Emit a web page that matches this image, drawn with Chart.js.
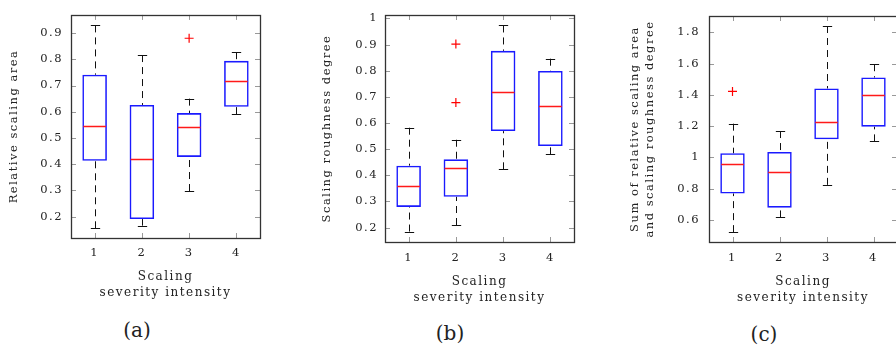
<!DOCTYPE html>
<html lang="en">
<head>
<meta charset="UTF-8">
<title>Scaling severity box plots</title>
<script src="https://cdn.jsdelivr.net/npm/chart.js"></script>
<style>
  body { margin: 0; width: 896px; height: 346px; overflow: hidden; background: #fff; position: relative; }
  .panel { position: absolute; top: 0; }
  .caption { position: absolute; font-family: "DejaVu Serif", serif; font-size: 20px; line-height: 22px; color: #222; transform: translateX(-50%); }
</style>
</head>
<body>
<div class="panel" style="left:0px"><canvas id="chartA" width="270" height="310"></canvas></div>
<div class="panel" style="left:300px"><canvas id="chartB" width="284" height="310"></canvas></div>
<div class="panel" style="left:600px"><canvas id="chartC" width="307" height="310"></canvas></div>
<div class="caption" style="left:137px;top:319px">(a)</div>
<div class="caption" style="left:450px;top:322px">(b)</div>
<div class="caption" style="left:764px;top:323px">(c)</div>

<script>
    const categories = ['1', '2', '3', '4'];

    // (a) relative scaling area
    const areaLow = [0.156, 0.166, 0.298, 0.591];
    const areaQ1 = [0.413, 0.191, 0.428, 0.619];
    const areaMedian = [0.544, 0.421, 0.540, 0.716];
    const areaQ3 = [0.741, 0.626, 0.595, 0.794];
    const areaHigh = [0.929, 0.816, 0.650, 0.827];
    const areaOutliers = [{x: '3', y: 0.88}];
    const areaTicks = [0.2, 0.3, 0.4, 0.5, 0.6, 0.7, 0.8, 0.9];

    // (b) scaling roughness degree
    const roughLow = [0.185, 0.210, 0.423, 0.480];
    const roughQ1 = [0.279, 0.318, 0.569, 0.512];
    const roughMedian = [0.358, 0.428, 0.717, 0.666];
    const roughQ3 = [0.437, 0.461, 0.876, 0.799];
    const roughHigh = [0.582, 0.536, 0.973, 0.846];
    const roughOutliers = [{x: '2', y: 0.902}, {x: '2', y: 0.678}];
    const roughTicks = [0.2, 0.3, 0.4, 0.5, 0.6, 0.7, 0.8, 0.9, 1];

    // (c) sum of both
    const sumLow = [0.523, 0.617, 0.825, 1.103];
    const sumQ1 = [0.770, 0.679, 1.116, 1.197];
    const sumMedian = [0.961, 0.906, 1.226, 1.399];
    const sumQ3 = [1.027, 1.035, 1.441, 1.511];
    const sumHigh = [1.216, 1.169, 1.840, 1.596];
    const sumOutliers = [{x: '1', y: 1.422}];
    const sumTicks = [0.6, 0.8, 1, 1.2, 1.4, 1.6, 1.8];

    const FONT = '"DejaVu Serif", serif';
    const TEXT = '#222';

    // whiskers, caps, medians and the framed axes with inner ticks
    function boxPlugin(low, median, high) {
        return {
            id: 'boxExtras',
            beforeDraw(chart) {
                chart.ctx.letterSpacing = '1.5px';
            },
            beforeDatasetsDraw(chart) {
                const {ctx, chartArea: a, scales: {x, y}} = chart;
                ctx.save();
                ctx.strokeStyle = '#999';
                ctx.lineWidth = 1;
                ctx.beginPath();
                y.ticks.forEach(t => {
                    const py = Math.round(y.getPixelForValue(t.value)) + 0.5;
                    ctx.moveTo(a.left, py); ctx.lineTo(a.left + 5, py);
                    ctx.moveTo(a.right, py); ctx.lineTo(a.right - 5, py);
                });
                categories.forEach((c, i) => {
                    const px = Math.round(x.getPixelForValue(i)) + 0.5;
                    ctx.moveTo(px, a.bottom); ctx.lineTo(px, a.bottom - 5);
                    ctx.moveTo(px, a.top); ctx.lineTo(px, a.top + 5);
                });
                ctx.stroke();

                const meta = chart.getDatasetMeta(0);
                ctx.strokeStyle = '#111';
                meta.data.forEach((bar, i) => {
                    const cx = Math.round(bar.x) + 0.5;
                    const capHalf = bar.width * 0.19;
                    const yLow = y.getPixelForValue(low[i]);
                    const yHigh = y.getPixelForValue(high[i]);
                    const yQ1 = Math.max(bar.y, bar.base);
                    const yQ3 = Math.min(bar.y, bar.base);
                    ctx.setLineDash([7, 5]);
                    ctx.beginPath();
                    ctx.moveTo(cx, yHigh); ctx.lineTo(cx, yQ3);
                    ctx.moveTo(cx, yLow); ctx.lineTo(cx, yQ1);
                    ctx.stroke();
                    ctx.setLineDash([]);
                    ctx.beginPath();
                    ctx.moveTo(cx - capHalf, Math.round(yHigh) + 0.5); ctx.lineTo(cx + capHalf, Math.round(yHigh) + 0.5);
                    ctx.moveTo(cx - capHalf, Math.round(yLow) + 0.5); ctx.lineTo(cx + capHalf, Math.round(yLow) + 0.5);
                    ctx.stroke();
                });
                ctx.restore();
            },
            afterDatasetsDraw(chart) {
                const {ctx, chartArea: a, scales: {y}} = chart;
                const meta = chart.getDatasetMeta(0);
                ctx.save();
                ctx.strokeStyle = '#ff1a1a';
                ctx.lineWidth = 1.3;
                ctx.beginPath();
                meta.data.forEach((bar, i) => {
                    const py = Math.round(y.getPixelForValue(median[i])) + 0.5;
                    ctx.moveTo(bar.x - bar.width / 2 + 1, py);
                    ctx.lineTo(bar.x + bar.width / 2 - 1, py);
                });
                ctx.stroke();
                ctx.strokeStyle = '#333';
                ctx.lineWidth = 1.3;
                ctx.strokeRect(Math.round(a.left) + 0.5, Math.round(a.top) + 0.5,
                    Math.round(a.right - a.left), Math.round(a.bottom - a.top));
                ctx.restore();
            }
        };
    }

    function makeChart(id, cfg) {
        const ctx = document.getElementById(id).getContext('2d');
        return new Chart(ctx, {
            type: 'bar',
            data: {
                labels: categories,
                datasets: [{
                    data: categories.map((c, i) => [cfg.q1[i], cfg.q3[i]]),
                    backgroundColor: 'rgba(0,0,0,0)',
                    borderColor: '#1a1aff',
                    borderWidth: 1.6,
                    borderSkipped: false,
                    barPercentage: 0.52,
                    categoryPercentage: 1
                }, {
                    type: 'line',
                    data: cfg.outliers,
                    showLine: false,
                    pointStyle: 'cross',
                    pointRadius: 4.5,
                    pointBorderColor: '#ff0000',
                    pointBorderWidth: 1.2,
                    borderColor: '#ff0000'
                }]
            },
            options: {
                responsive: false,
                animation: false,
                layout: { padding: { top: cfg.top, right: 10, left: 0, bottom: 0 } },
                plugins: { legend: { display: false }, tooltip: { enabled: false } },
                scales: {
                    x: {
                        grid: { display: false, drawTicks: false },
                        border: { display: false },
                        ticks: { color: TEXT, font: { family: FONT, size: 11.5 }, padding: cfg.xTickPad },
                        title: {
                            display: true,
                            text: ['Scaling', 'severity intensity'],
                            color: TEXT,
                            font: { family: FONT, size: 12, lineHeight: 1.34 },
                            padding: { top: 0, bottom: cfg.xTitlePad }
                        },
                        afterFit: s => { s.height = 310 - cfg.bottom; }
                    },
                    y: {
                        min: cfg.min,
                        max: cfg.max,
                        grid: { display: false, drawTicks: false },
                        border: { display: false },
                        afterBuildTicks: s => { s.ticks = cfg.ticks.map(v => ({value: v})); },
                        ticks: {
                            color: TEXT,
                            font: { family: FONT, size: 11.5 },
                            padding: cfg.yTickPad,
                            callback: v => String(v)
                        },
                        title: {
                            display: true,
                            text: cfg.yTitle,
                            color: TEXT,
                            font: { family: FONT, size: 11.5, lineHeight: 1.3 },
                            padding: { top: cfg.yTitlePad, bottom: 0 }
                        },
                        afterFit: s => { s.width = cfg.yWidth; }
                    }
                }
            },
            plugins: [boxPlugin(cfg.low, cfg.median, cfg.high)]
        });
    }

    makeChart('chartA', {
        low: areaLow, q1: areaQ1, median: areaMedian, q3: areaQ3, high: areaHigh,
        outliers: areaOutliers, ticks: areaTicks, min: 0.119, max: 0.969,
        yTitle: 'Relative scaling area', top: 11, bottom: 238, yWidth: 71,
        yTitlePad: 7, yTickPad: 8, xTickPad: 8, xTitlePad: 9
    });

    makeChart('chartB', {
        low: roughLow, q1: roughQ1, median: roughMedian, q3: roughQ3, high: roughHigh,
        outliers: roughOutliers, ticks: roughTicks, min: 0.145, max: 1.013,
        yTitle: 'Scaling roughness degree', top: 15, bottom: 242, yWidth: 85,
        yTitlePad: 20, yTickPad: 7, xTickPad: 9, xTitlePad: 4
    });

    makeChart('chartC', {
        low: sumLow, q1: sumQ1, median: sumMedian, q3: sumQ3, high: sumHigh,
        outliers: sumOutliers, ticks: sumTicks, min: 0.46, max: 1.904,
        yTitle: ['Sum of relative scaling area', 'and scaling roughness degree'],
        top: 16, bottom: 242, yWidth: 109,
        yTitlePad: 28, yTickPad: 9, xTickPad: 9, xTitlePad: 4
    });
</script>
</body>
</html>
